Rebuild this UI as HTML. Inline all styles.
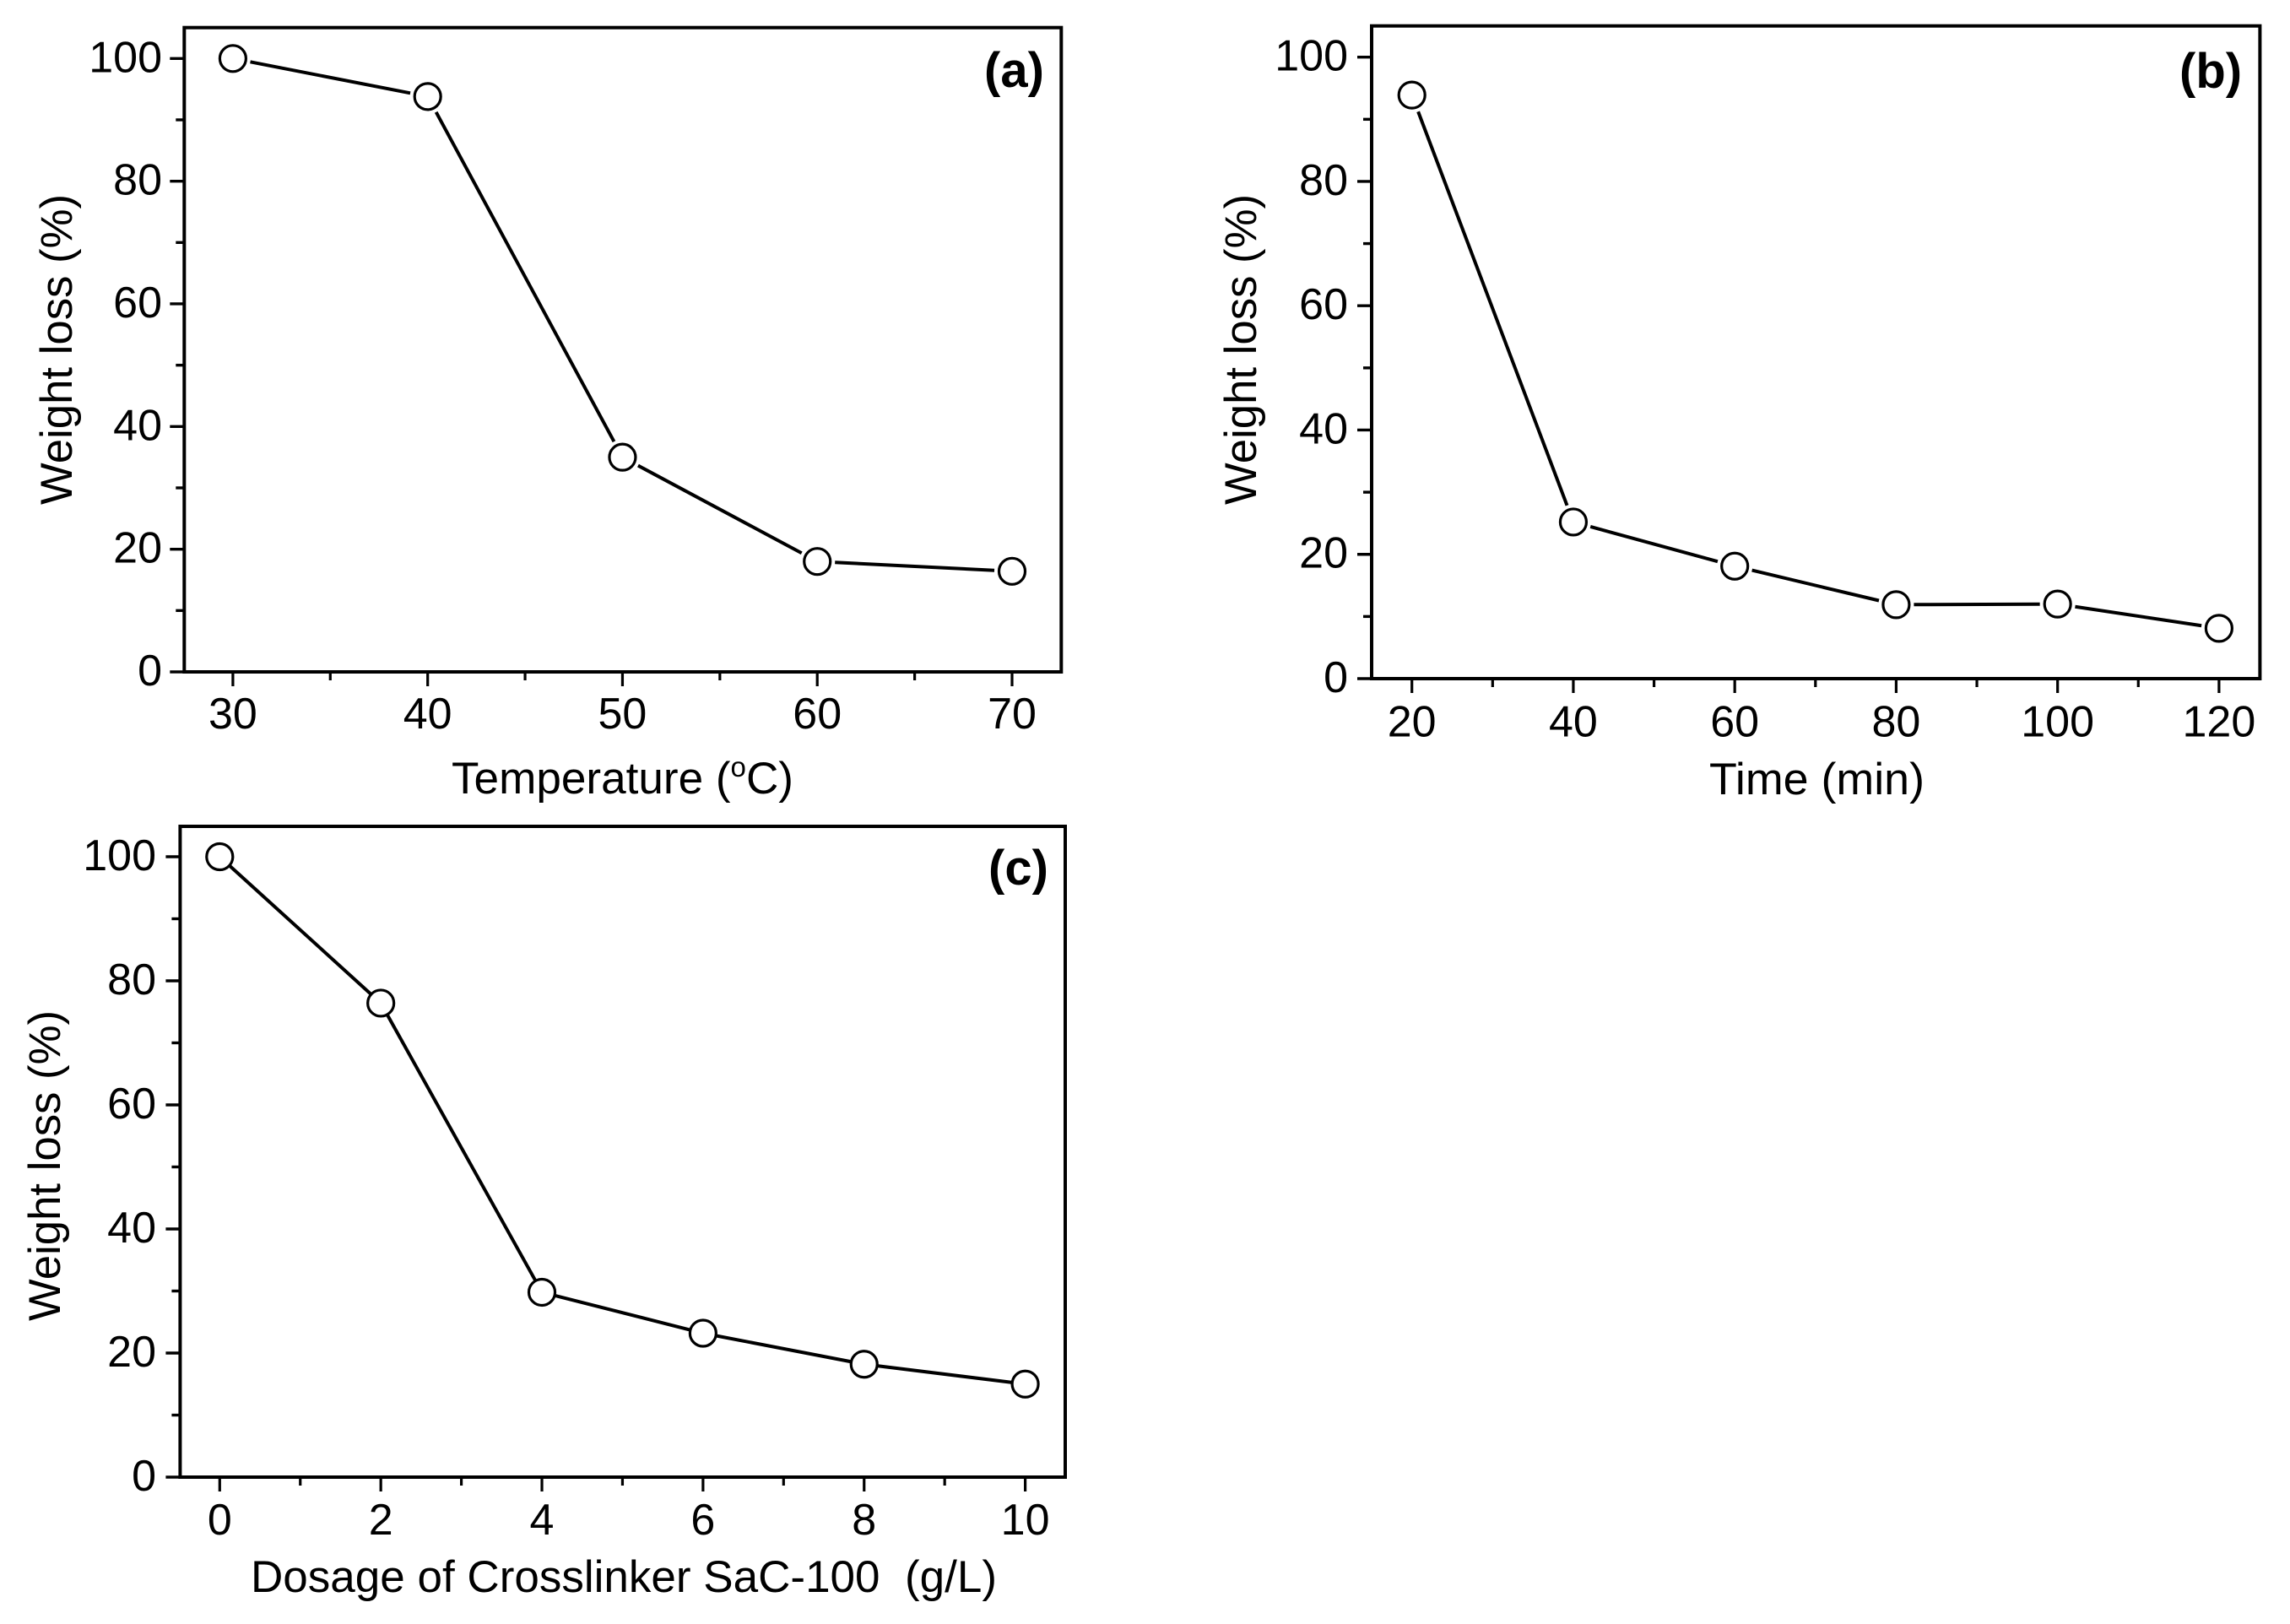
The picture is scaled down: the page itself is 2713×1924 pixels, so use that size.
<!DOCTYPE html>
<html lang="en">
<head>
<meta charset="utf-8">
<title>Weight loss charts</title>
<style>
html,body{margin:0;padding:0;background:#fff;}
svg{display:block;}
text{font-family:"Liberation Sans",Arial,sans-serif;fill:#000;}
.tick{font-size:52px;}
.title{font-size:53px;}
.panel{font-size:58px;font-weight:bold;}
</style>
</head>
<body>
<svg id="figure" xmlns="http://www.w3.org/2000/svg" width="2713" height="1924" viewBox="0 0 2713 1924">
  <rect x="0" y="0" width="2713" height="1924" fill="#fff"/>

  <g id="chart-a">
    <text class="title" x="85" y="414" text-anchor="middle" textLength="368" lengthAdjust="spacingAndGlyphs" transform="rotate(-90 85 414)">Weight loss (%)</text>
    <text class="title" x="535" y="940" textLength="405" lengthAdjust="spacingAndGlyphs">Temperature (<tspan font-size="33" dy="-20">o</tspan><tspan dy="20">C)</tspan></text>
    <text class="panel" x="1166" y="103">(a)</text>
  </g>

  <g id="chart-b">
    <text class="title" x="1488" y="414" text-anchor="middle" textLength="368" lengthAdjust="spacingAndGlyphs" transform="rotate(-90 1488 414)">Weight loss (%)</text>
    <text class="title" x="2025" y="941" textLength="255" lengthAdjust="spacingAndGlyphs">Time (min)</text>
    <text class="panel" x="2582" y="104">(b)</text>
  </g>

  <g id="chart-c">
    <text class="title" x="71" y="1381" text-anchor="middle" textLength="368" lengthAdjust="spacingAndGlyphs" transform="rotate(-90 71 1381)">Weight loss (%)</text>
    <text class="title" x="297" y="1886" textLength="884" lengthAdjust="spacingAndGlyphs" xml:space="preserve">Dosage of Crosslinker SaC-100  (g/L)</text>
    <text class="panel" x="1171" y="1048">(c)</text>
  </g>
</svg>

<script>
// Shared y axis
const yTickLabels = ['0', '20', '40', '60', '80', '100'];
const yMinorTicks = [10, 30, 50, 70, 90];

// Panel (a)
const temperatureCategories = [30, 40, 50, 60, 70];
const temperatureWeightLoss = [100, 93.8, 35, 18, 16.4];
const temperatureMinorTicks = [35, 45, 55, 65];

// Panel (b)
const timeCategories = [20, 40, 60, 80, 100, 120];
const timeWeightLoss = [93.9, 25.2, 18.1, 11.9, 12, 8.1];
const timeMinorTicks = [30, 50, 70, 90, 110];

// Panel (c)
const dosageCategories = [0, 2, 4, 6, 8, 10];
const dosageWeightLoss = [100, 76.4, 29.8, 23.2, 18.2, 15];
const dosageMinorTicks = [1, 3, 5, 7, 9];

const NS = 'http://www.w3.org/2000/svg';

function make(parent, tag, attrs) {
  const el = document.createElementNS(NS, tag);
  for (const k in attrs) el.setAttribute(k, attrs[k]);
  parent.appendChild(el);
  return el;
}

function drawChart(cfg) {
  const root = document.getElementById(cfg.id);
  const first = cfg.categories[0];
  const last = cfg.categories[cfg.categories.length - 1];
  const xPerUnit = (cfg.xLast - cfg.xFirst) / (last - first);
  const yPerUnit = (cfg.yZero - cfg.yHundred) / 100;
  const xScale = v => cfg.xFirst + (v - first) * xPerUnit;
  const yScale = v => cfg.yZero - v * yPerUnit;

  // series line, drawn below markers
  for (let i = 0; i < cfg.values.length - 1; i++) {
    const x1 = xScale(cfg.categories[i]);
    const y1 = yScale(cfg.values[i]);
    const x2 = xScale(cfg.categories[i + 1]);
    const y2 = yScale(cfg.values[i + 1]);
    const len = Math.hypot(x2 - x1, y2 - y1);
    const ux = (x2 - x1) / len;
    const uy = (y2 - y1) / len;
    const seg = make(root, 'line', {
      x1: x1 + ux * cfg.gap, y1: y1 + uy * cfg.gap,
      x2: x2 - ux * cfg.gap, y2: y2 - uy * cfg.gap,
      stroke: '#000', 'stroke-width': 4
    });
    
    
  }

  // markers
  for (let i = 0; i < cfg.values.length; i++) {
    const dot = make(root, 'circle', {
      cx: xScale(cfg.categories[i]), cy: yScale(cfg.values[i]), r: 15.5,
      fill: '#fff', stroke: '#000', 'stroke-width': 3.2
    });
    
    
  }

  // frame
  const frame = make(root, 'rect', {
    x: cfg.left, y: cfg.top, width: cfg.right - cfg.left, height: cfg.yZero - cfg.top,
    fill: 'none', stroke: '#000', 'stroke-width': 4
  });
  
  

  // x ticks
  cfg.categories.forEach(v => {
    const t = make(root, 'line', {
      x1: xScale(v), x2: xScale(v), y1: cfg.yZero, y2: cfg.yZero + 17,
      stroke: '#000', 'stroke-width': 3.2
    });
    
    
    const label = make(root, 'text', {
      x: xScale(v), y: cfg.xLabelBaseline, 'text-anchor': 'middle', class: 'tick'
    });
    label.textContent = String(v);
    
    
  });
  cfg.minorTicks.forEach(v => {
    const t = make(root, 'line', {
      x1: xScale(v), x2: xScale(v), y1: cfg.yZero, y2: cfg.yZero + 10,
      stroke: '#000', 'stroke-width': 3.2
    });
    
    
  });

  // y ticks
  yTickLabels.forEach(s => {
    const v = Number(s);
    const t = make(root, 'line', {
      x1: cfg.left - 17, x2: cfg.left, y1: yScale(v), y2: yScale(v),
      stroke: '#000', 'stroke-width': 3.4
    });
    
    
    const label = make(root, 'text', {
      x: cfg.yLabelRight, y: yScale(v) + 16, 'text-anchor': 'end', class: 'tick'
    });
    label.textContent = s;
    
    
  });
  yMinorTicks.forEach(v => {
    const t = make(root, 'line', {
      x1: cfg.left - 10, x2: cfg.left, y1: yScale(v), y2: yScale(v),
      stroke: '#000', 'stroke-width': 3.4
    });
    
    
  });
}

drawChart({
  id: 'chart-a', categories: temperatureCategories, values: temperatureWeightLoss, minorTicks: temperatureMinorTicks,
  left: 218.3, right: 1257.3, top: 32.7, yZero: 796, yHundred: 69.3,
  xFirst: 275.9, xLast: 1199, gap: 21, xLabelBaseline: 863, yLabelRight: 192
});
drawChart({
  id: 'chart-b', categories: timeCategories, values: timeWeightLoss, minorTicks: timeMinorTicks,
  left: 1625, right: 2677.4, top: 30.7, yZero: 804, yHundred: 67.7,
  xFirst: 1672.7, xLast: 2628.9, gap: 21, xLabelBaseline: 872.7, yLabelRight: 1597
});
drawChart({
  id: 'chart-c', categories: dosageCategories, values: dosageWeightLoss, minorTicks: dosageMinorTicks,
  left: 213.4, right: 1262, top: 979, yZero: 1750, yHundred: 1015,
  xFirst: 260.3, xLast: 1214.6, gap: 16.5, xLabelBaseline: 1818, yLabelRight: 185
});
</script>
</body>
</html>
